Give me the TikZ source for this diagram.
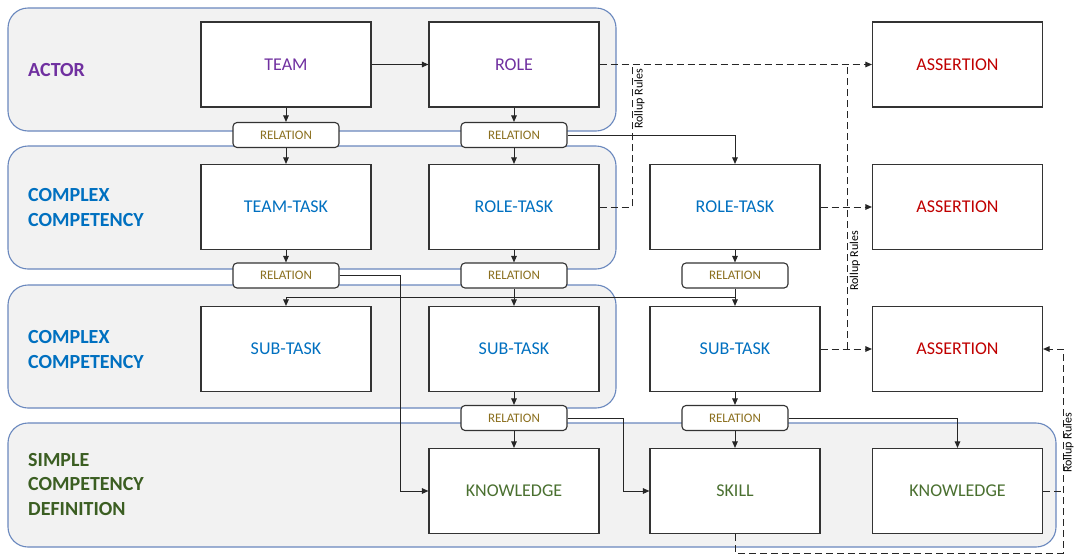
\documentclass[tikz,border=0pt]{standalone}
\usepackage{fontspec}
\setmainfont{Carlito}
\usetikzlibrary{arrows.meta}

\definecolor{lanefill}{HTML}{F2F2F2}
\definecolor{laneline}{HTML}{6A88BE}
\definecolor{actorc}{HTML}{7030A0}
\definecolor{complexc}{HTML}{0070C0}
\definecolor{simplec}{HTML}{3B5E22}
\definecolor{simplebox}{HTML}{4A7030}
\definecolor{relc}{HTML}{8B6F1E}
\definecolor{assertc}{HTML}{C00000}
\definecolor{edgec}{HTML}{333333}

\tikzset{
  lane/.style={draw=laneline, fill=lanefill, line width=1.1pt, rounded corners=20pt},
  box/.style={draw=edgec, fill=white, line width=1.1pt, minimum width=170pt,
    minimum height=85pt, inner sep=0pt, font=\fontsize{18}{21}\selectfont},
  rel/.style={draw=edgec, fill=white, line width=1.1pt, rounded corners=4pt,
    minimum width=106pt, minimum height=25pt, inner sep=0pt, text=relc,
    font=\fontsize{13}{15}\selectfont},
  lanetitle/.style={anchor=west, align=left, inner sep=0pt,
    font=\fontsize{20}{24.5}\selectfont\bfseries},
  rollup/.style={rotate=90, inner sep=0pt, font=\fontsize{12}{14}\selectfont},
  arr/.style={draw=black!85, line width=1pt, -{Triangle[length=6.5pt,width=5.5pt]}},
  dashline/.style={draw=black!85, line width=1pt, dash pattern=on 7pt off 4pt},
  dasharr/.style={dashline, -{Triangle[length=6.5pt,width=5.5pt]}},
}

\begin{document}
\begin{tikzpicture}[x=1pt, y=-1pt]
\useasboundingbox (0,0) rectangle (1074,555);
\fill[white] (0,0) rectangle (1074,555);

% swim lanes
\draw[lane] (8,8) rectangle (616,131);
\draw[lane] (8,146) rectangle (616,269);
\draw[lane] (8,285) rectangle (616,408);
\draw[lane] (8,423) rectangle (1056,547);

% lane titles
\node[lanetitle, text=actorc] (tactor) at (28,70.2) {ACTOR};
\node[lanetitle, text=complexc] (tcomplexa) at (28,207.4) {COMPLEX\\COMPETENCY};
\node[lanetitle, text=complexc] (tcomplexb) at (28,349.4) {COMPLEX\\COMPETENCY};
\node[lanetitle, text=simplec] (tsimple) at (28,484.5) {SIMPLE\\COMPETENCY\\DEFINITION};

% entity boxes
\node[box, text=actorc] (team) at (286,64.5) {TEAM};
\node[box, text=actorc] (role) at (514,64.5) {ROLE};
\node[box, text=complexc] (teamtask) at (286,207) {TEAM-TASK};
\node[box, text=complexc] (roletask) at (514,207) {ROLE-TASK};
\node[box, text=complexc] (roletaskb) at (735,207) {ROLE-TASK};
\node[box, text=complexc] (suba) at (286,349) {SUB-TASK};
\node[box, text=complexc] (subb) at (514,349) {SUB-TASK};
\node[box, text=complexc] (subc) at (735,349) {SUB-TASK};
\node[box, text=simplebox] (knowa) at (514,491) {KNOWLEDGE};
\node[box, text=simplebox] (skill) at (735,491) {SKILL};
\node[box, text=simplebox] (knowb) at (957.5,491) {KNOWLEDGE};
\node[box, text=assertc] (asa) at (957.5,64.5) {ASSERTION};
\node[box, text=assertc] (asb) at (957.5,207) {ASSERTION};
\node[box, text=assertc] (asc) at (957.5,349) {ASSERTION};

% relation nodes
\node[rel] (ra) at (286,135) {RELATION};
\node[rel] (rb) at (514,135) {RELATION};
\node[rel] (rc) at (286,275.5) {RELATION};
\node[rel] (rd) at (514,275.5) {RELATION};
\node[rel] (re) at (735,275.5) {RELATION};
\node[rel] (rf) at (514,418) {RELATION};
\node[rel] (rg) at (735,418) {RELATION};

% turning points of the routed links
\coordinate (bus) at (0,297);
\coordinate (ruA) at (632,64.5);
\coordinate (ruB) at (847,64.5);
\coordinate (ruC) at (1063,553);

% solid links
\draw[arr] (team) -- (role);
\draw[arr] (team) -- (ra);
\draw[arr] (ra) -- (teamtask);
\draw[arr] (role) -- (rb);
\draw[arr] (rb) -- (roletask);
\draw[arr] (rb.east) -| (roletaskb.north);
\draw[arr] (teamtask) -- (rc);
\draw[arr] (rc.east) -- ++(61,0) |- (knowa.west);
\draw[arr] (roletask) -- (rd);
\draw[arr] (rd) -- (subb);
\draw[arr] (roletaskb) -- (re);
\draw[arr] (re) -- (subc);
\draw[arr] (re.south) |- (suba.north |- bus) -- (suba.north);
\draw[arr] (subb) -- (rf);
\draw[arr] (rf) -- (knowa);
\draw[arr] (subc) -- (rg);
\draw[arr] (rg) -- (skill);
\draw[arr] (rf.east) -- ++(56,0) |- (skill.west);
\draw[arr] (rg.east) -| (knowb.north);

% rollup links
\draw[dasharr] (role) -- (asa);
\draw[dashline] (roletask.east) -| (ruA);
\draw[dasharr] (roletaskb) -- (asb);
\draw[dasharr] (subc) -- (asc);
\draw[dashline] (subc.east -| ruB) -- (ruB);
\draw[dashline] (knowb.east) -- (knowb.east -| ruC);
\draw[dasharr] (skill.south) |- (ruC) |- (asc.east);

\node[rollup] (rla) at (639.5,99) {Rollup Rules};
\node[rollup] (rlb) at (855,261) {Rollup Rules};
\node[rollup] (rlc) at (1068.5,443) {Rollup Rules};
\end{tikzpicture}
\end{document}
